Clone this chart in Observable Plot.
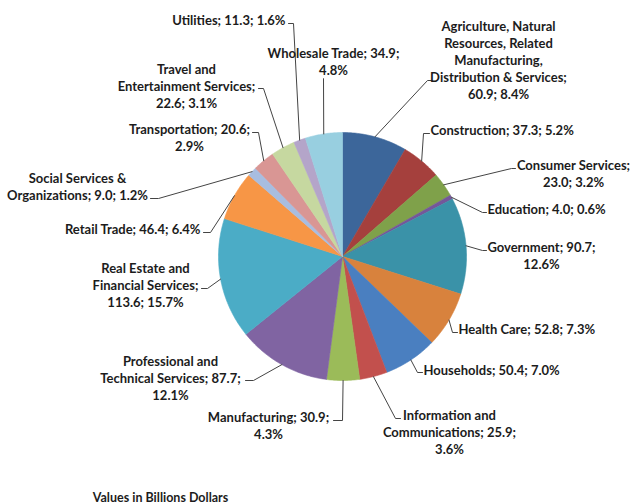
<!DOCTYPE html>
<html>
<head>
<meta charset="utf-8">
<script src="https://cdn.jsdelivr.net/npm/d3@7"></script>
<script src="https://cdn.jsdelivr.net/npm/@observablehq/plot@0.6"></script>
<style>
  html, body { margin: 0; padding: 0; background: #fff; }
  #chart { width: 644px; height: 504px; position: relative; }
</style>
</head>
<body>
<div id="chart"></div>
<script>
// ---- data ----
const sectors = [
  "Agriculture, Natural Resources, Related Manufacturing, Distribution & Services",
  "Construction", "Consumer Services", "Education", "Government", "Health Care",
  "Households", "Information and Communications", "Manufacturing",
  "Professional and Technical Services", "Real Estate and Financial Services",
  "Retail Trade", "Social Services & Organizations", "Transportation",
  "Travel and Entertainment Services", "Utilities", "Wholesale Trade"
];
const values = [60.9, 37.3, 23.0, 4.0, 90.7, 52.8, 50.4, 25.9, 30.9, 87.7, 113.6, 46.4, 9.0, 20.6, 22.6, 11.3, 34.9];
const percents = ["8.4%", "5.2%", "3.2%", "0.6%", "12.6%", "7.3%", "7.0%", "3.6%", "4.3%", "12.1%", "15.7%", "6.4%", "1.2%", "2.9%", "3.1%", "1.6%", "4.8%"];
const labelTexts = [
  "Agriculture, Natural\nResources, Related\nManufacturing,\nDistribution & Services;\n60.9; 8.4%",
  "Construction; 37.3; 5.2%",
  "Consumer Services;\n23.0; 3.2%",
  "Education; 4.0; 0.6%",
  "Government; 90.7;\n12.6%",
  "Health Care; 52.8; 7.3%",
  "Households; 50.4; 7.0%",
  "Information and\nCommunications; 25.9;\n3.6%",
  "Manufacturing; 30.9;\n4.3%",
  "Professional and\nTechnical Services; 87.7;\n12.1%",
  "Real Estate and\nFinancial Services;\n113.6; 15.7%",
  "Retail Trade; 46.4; 6.4%",
  "Social Services &\nOrganizations; 9.0; 1.2%",
  "Transportation; 20.6;\n2.9%",
  "Travel and\nEntertainment Services;\n22.6; 3.1%",
  "Utilities; 11.3; 1.6%",
  "Wholesale Trade; 34.9;\n4.8%"
];
const caption = "Values in Billions Dollars";

// ---- styles / layout ----
const colors = ["#3c669a", "#a5403d", "#7fa14a", "#74579a", "#3a92a8", "#d8823d", "#4a7fc0", "#c2504d", "#9bbb59", "#8064a2", "#4bacc6", "#f79646", "#a8bde0", "#d99694", "#c6d8a0", "#b4a5c9", "#98cfe0"];
const W = 644, H = 504;
const cx = 342, cy = 256, R = 124;
// label layout: [x, y(center of block), anchor, leader elbow, leader end]
const labelLayout = [
  {x: 498, y: 59,    a: "middle", elbow: [427, 80],  end: [431, 80]},
  {x: 430, y: 129,   a: "start",  elbow: [423, 133], end: [429, 133]},
  {x: 573, y: 172.5, a: "middle", elbow: [511, 168], end: [515, 168]},
  {x: 487, y: 208,   a: "start",  elbow: [482, 212], end: [486, 212]},
  {x: 541, y: 254.5, a: "middle", elbow: [482, 250], end: [486, 250]},
  {x: 458, y: 328,   a: "start",  elbow: [452, 332], end: [457, 332]},
  {x: 423, y: 369,   a: "start",  elbow: [417, 372], end: [422, 372]},
  {x: 449, y: 431,   a: "middle", elbow: [395, 418], end: [400, 418]},
  {x: 268, y: 424.5, a: "middle", elbow: [342, 420], end: [333, 420]},
  {x: 170, y: 377,   a: "middle", elbow: [253, 380], end: [245, 380]},
  {x: 145, y: 284,   a: "middle", elbow: [207, 288], end: [201, 288]},
  {x: 200, y: 228,   a: "end",    elbow: [210, 232], end: [203, 232]},
  {x: 77,  y: 185.5, a: "middle", elbow: [158, 198], end: [150, 198]},
  {x: 189, y: 136.5, a: "middle", elbow: [258, 132], end: [252, 132]},
  {x: 186, y: 85,    a: "middle", elbow: [263, 88],  end: [258, 88]},
  {x: 285, y: 19,    a: "end",    elbow: [293, 23],  end: [288, 23]},
  {x: 333, y: 60.5,  a: "middle", elbow: [323, 78],  end: [323, 78]}
];

// ---- geometry from values ----
const total = d3.sum(values);
const slices = [];
const leaders = [];
let acc = 0;
values.forEach((v, i) => {
  const a0 = acc / total * 2 * Math.PI;
  const a1 = (acc + v) / total * 2 * Math.PI;
  acc += v;
  const n = Math.max(2, Math.ceil((a1 - a0) / 0.01));
  slices.push({i, x: cx, y: cy});
  for (let k = 0; k <= n; k++) {
    const a = a0 + (a1 - a0) * k / n;
    slices.push({i, x: cx + R * Math.sin(a), y: cy - R * Math.cos(a)});
  }
  slices.push({i, x: cx, y: cy});
  const am = (a0 + a1) / 2;
  const L = labelLayout[i];
  leaders.push({i, x: cx + R * Math.sin(am), y: cy - R * Math.cos(am)});
  leaders.push({i, x: L.elbow[0], y: L.elbow[1]});
  leaders.push({i, x: L.end[0], y: L.end[1]});
});

const labels = labelTexts.map((t, i) => ({i, text: t, x: labelLayout[i].x, y: labelLayout[i].y, a: labelLayout[i].a}));

const font = "Lato, 'Open Sans', sans-serif";
const textStyle = {fontFamily: font, fontSize: 13, fontWeight: "bold", fill: "#1c1c1c", lineHeight: 1.31, lineAnchor: "middle"};

const marks = [];
values.forEach((v, i) => {
  marks.push(Plot.line(slices.filter(d => d.i === i), {x: "x", y: "y", fill: colors[i], stroke: colors[i], strokeWidth: 0.6, curve: "linear"}));
});
marks.push(Plot.line(leaders, {x: "x", y: "y", z: "i", stroke: "#444", strokeWidth: 1, curve: "linear"}));
for (const anchor of ["start", "middle", "end"]) {
  marks.push(Plot.text(labels.filter(d => d.a === anchor), {x: "x", y: "y", text: "text", textAnchor: anchor, ...textStyle}));
}
marks.push(Plot.text([caption], {x: 160, y: 497, text: d => d, textAnchor: "middle", fontFamily: font, fontSize: 12.5, fontWeight: "bold", fill: "#1c1c1c"}));

const chart = Plot.plot({
  width: W, height: H,
  margin: 0,
  x: {domain: [0, W], range: [0, W], axis: null},
  y: {domain: [0, H], range: [0, H], axis: null},
  style: {background: "#fff", overflow: "visible"},
  marks
});
document.getElementById("chart").appendChild(chart);
</script>
</body>
</html>
